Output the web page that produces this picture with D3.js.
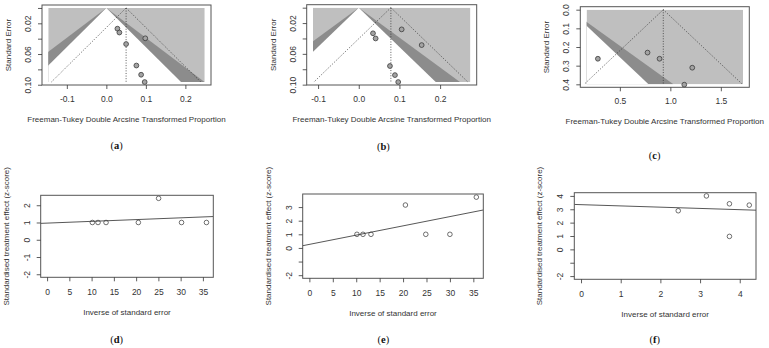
<!DOCTYPE html>
<html>
<head>
<meta charset="utf-8">
<script src="https://cdn.jsdelivr.net/npm/d3@7/dist/d3.min.js"></script>
<style>
  body { margin: 0; background: #fff; }
  svg { display: block; font-family: "Liberation Sans", Arial, sans-serif; }
</style>
</head>
<body>
<svg id="chart" width="769" height="348"></svg>
<script>
// ---- funnel plots (a)-(c): transformed proportion vs standard error ----
const aEffect = [0.028, 0.033, 0.050, 0.0985, 0.076, 0.088, 0.097];
const aSE     = [0.027, 0.032, 0.047, 0.0395, 0.075, 0.087, 0.0965];
const aEstimate = 0.05;
const aXlim = [-0.147, 0.249];
const aSEMax = 0.0965;
const aXTicks = [-0.1, 0.0, 0.1, 0.2];
const aXLabels = ["-0.1", "0.0", "0.1", "0.2"];
const aYTicks = [0, 0.02, 0.04, 0.06, 0.08, 0.10];
const aYLabels = ["", "0.02", "", "0.06", "", "0.10"];

const bEffect = [0.035, 0.0415, 0.1055, 0.1547, 0.0767, 0.089, 0.097];
const bSE     = [0.0333, 0.040, 0.0282, 0.0486, 0.0758, 0.0876, 0.0966];
const bEstimate = 0.079;
const bXlim = [-0.1125, 0.2745];
const bSEMax = 0.0966;
const bXTicks = [-0.1, 0.0, 0.1, 0.2];
const bXLabels = ["-0.1", "0.0", "0.1", "0.2"];
const bYTicks = [0, 0.02, 0.04, 0.06, 0.08, 0.10];
const bYLabels = ["", "0.02", "", "0.06", "", "0.10"];

const cEffect = [0.282, 0.774, 0.893, 1.217, 1.138];
const cSE     = [0.263, 0.230, 0.263, 0.311, 0.402];
const cEstimate = 0.93;
const cXlim = [0.17, 1.72];
const cSEMax = 0.40;
const cXTicks = [0.5, 1.0, 1.5];
const cXLabels = ["0.5", "1.0", "1.5"];
const cYTicks = [0, 0.1, 0.2, 0.3, 0.4];
const cYLabels = ["0.0", "0.1", "0.2", "0.3", "0.4"];

// contour levels (95%, 99%) around zero
const contourZ = [1.96, 2.576];
const ciZ = 1.96;

// ---- Egger plots (d)-(f): precision vs standardised effect ----
const dPrecision = [10.17, 11.44, 13.24, 20.5, 25.05, 30.2, 35.8];
const dZ = [1, 1, 1, 1, 2.4, 1, 1];
const dFit = [0.964, 0.0102]; // intercept, slope
const dXlim = [0, 35.9];
const dYlim = [-2, 2.4];
const dXTicks = [0, 5, 10, 15, 20, 25, 30, 35];
const dYTicks = [-2, -1, 0, 1, 2];
const dYLabels = ["-2", "-1", "0", "1", "2"];

const ePrecision = [10.15, 11.44, 13.15, 20.5, 24.85, 30.0, 35.64];
const eZ = [1, 1, 1, 3.15, 1, 1, 3.73];
const eFit = [0.26, 0.068];
const eXlim = [0, 35.7];
const eYlim = [-2, 3.73];
const eXTicks = [0, 5, 10, 15, 20, 25, 30, 35];
const eYTicks = [-2, -1, 0, 1, 2, 3];
const eYLabels = ["-2", "", "0", "1", "2", "3"];

const fPrecision = [2.45, 3.16, 3.74, 3.74, 4.24];
const fZ = [2.89, 4.0, 3.41, 0.97, 3.31];
const fFit = [3.345, -0.094];
const fXlim = [0, 4.24];
const fYlim = [-2, 4.0];
const fXTicks = [0, 1, 2, 3, 4];
const fYTicks = [-2, -1, 0, 1, 2, 3, 4];
const fYLabels = ["-2", "", "0", "1", "2", "3", "4"];

const funnelTitle = "Freeman-Tukey Double Arcsine Transformed Proportion";
const eggerXTitle = "Inverse of standard error";
const eggerYTitle = "Standardised treatment effect (z-score)";

const svg = d3.select("#chart");
const ink = "#333";

// R style 4% axis expansion
const expand = (lim) => {
    const pad = (lim[1] - lim[0]) * 0.04;
    return [lim[0] - pad, lim[1] + pad];
};

function yLabels(g, labels, offset) {
    g.selectAll(".tick text")
        .text((d, i) => labels[i])
        .attr("x", 0)
        .attr("y", -offset)
        .attr("dy", "0.35em")
        .attr("transform", "rotate(-90)")
        .attr("text-anchor", "middle");
}

function styleAxis(g) {
    g.select(".domain").remove();
    g.selectAll(".tick line").attr("stroke", ink).attr("stroke-width", 0.8);
    g.selectAll(".tick text").attr("fill", ink).attr("font-size", 8.5);
}

function drawFunnel(p) {
    const [x0, x1, y0, y1] = p.box;
    const x = d3.scaleLinear().domain(expand(p.xlim)).range([x0, x1]);
    const y = d3.scaleLinear().domain(expand([0, p.seMax])).range([y0, y1]);
    const g = svg.append("g");

    g.append("clipPath").attr("id", "clip-" + p.key)
        .append("rect")
        .attr("x", x(p.xlim[0])).attr("y", y(0))
        .attr("width", x(p.xlim[1]) - x(p.xlim[0]))
        .attr("height", y(p.seMax) - y(0));

    const shade = g.append("g").attr("clip-path", `url(#clip-${p.key})`);
    shade.append("rect")
        .attr("x", x(p.xlim[0])).attr("y", y(0))
        .attr("width", x(p.xlim[1]) - x(p.xlim[0]))
        .attr("height", y(p.seMax) - y(0))
        .attr("fill", "#bfbfbf");

    const tri = (z) => [[0, 0], [-z * p.seMax, p.seMax], [z * p.seMax, p.seMax]];
    const line = d3.line().x(d => x(d[0])).y(d => y(d[1]));
    shade.append("path").attr("d", line(tri(contourZ[1])) + "Z").attr("fill", "#8c8c8c");
    shade.append("path").attr("d", line(tri(contourZ[0])) + "Z").attr("fill", "#fff");

    // dotted pseudo-CI funnel around the summary estimate
    const ci = [
        [[p.estimate, 0], [p.estimate, p.seMax]],
        [[p.estimate, 0], [p.estimate - ciZ * p.seMax, p.seMax]],
        [[p.estimate, 0], [p.estimate + ciZ * p.seMax, p.seMax]]
    ];
    g.selectAll(".ci").data(ci).enter().append("path")
        .attr("d", line)
        .attr("fill", "none")
        .attr("stroke", "#333")
        .attr("stroke-width", 0.8)
        .attr("stroke-dasharray", "1,1.6");

    g.selectAll(".pt").data(p.effect).enter().append("circle")
        .attr("cx", d => x(d))
        .attr("cy", (d, i) => y(p.se[i]))
        .attr("r", 2.4)
        .attr("fill", "#a3a3a3")
        .attr("stroke", "#3a3a3a")
        .attr("stroke-width", 0.8);

    g.append("rect")
        .attr("x", x0).attr("y", y0).attr("width", x1 - x0).attr("height", y1 - y0)
        .attr("fill", "none").attr("stroke", "#555").attr("stroke-width", 1);

    const xa = g.append("g").attr("transform", `translate(0,${y1})`)
        .call(d3.axisBottom(x).tickValues(p.xTicks).tickSize(4).tickPadding(7)
            .tickFormat((d, i) => p.xLabels[i]));
    styleAxis(xa);

    const ya = g.append("g").attr("transform", `translate(${x0},0)`)
        .call(d3.axisLeft(y).tickValues(p.yTicks).tickSize(4));
    styleAxis(ya);
    yLabels(ya, p.yLabels, 14);

    g.append("text")
        .attr("x", (x0 + x1) / 2).attr("y", y1 + 34)
        .attr("dy", "0.35em").attr("text-anchor", "middle")
        .attr("font-size", 8).attr("fill", ink)
        .text(funnelTitle);
    g.append("text")
        .attr("transform", `translate(${x0 - 34},${(y0 + y1) / 2}) rotate(-90)`)
        .attr("dy", "0.35em").attr("text-anchor", "middle")
        .attr("font-size", 8).attr("fill", ink)
        .text("Standard Error");
}

function drawEgger(p) {
    const [x0, x1, y0, y1] = p.box;
    const x = d3.scaleLinear().domain(expand(p.xlim)).range([x0, x1]);
    const y = d3.scaleLinear().domain(expand(p.ylim)).range([y1, y0]);
    const g = svg.append("g");

    g.append("clipPath").attr("id", "clip-" + p.key)
        .append("rect").attr("x", x0).attr("y", y0).attr("width", x1 - x0).attr("height", y1 - y0);

    const xd = x.domain();
    g.append("path")
        .attr("clip-path", `url(#clip-${p.key})`)
        .attr("d", d3.line().x(d => x(d)).y(d => y(p.fit[0] + p.fit[1] * d))(xd))
        .attr("fill", "none").attr("stroke", "#444").attr("stroke-width", 0.9);

    g.selectAll(".pt").data(p.precision).enter().append("circle")
        .attr("cx", d => x(d))
        .attr("cy", (d, i) => y(p.z[i]))
        .attr("r", 2.3)
        .attr("fill", "none")
        .attr("stroke", "#333")
        .attr("stroke-width", 0.7);

    g.append("rect")
        .attr("x", x0).attr("y", y0).attr("width", x1 - x0).attr("height", y1 - y0)
        .attr("fill", "none").attr("stroke", "#555").attr("stroke-width", 1);

    const xa = g.append("g").attr("transform", `translate(0,${y1})`)
        .call(d3.axisBottom(x).tickValues(p.xTicks).tickSize(4).tickPadding(8)
            .tickFormat(d3.format("d")));
    styleAxis(xa);

    const ya = g.append("g").attr("transform", `translate(${x0},0)`)
        .call(d3.axisLeft(y).tickValues(p.yTicks).tickSize(4));
    styleAxis(ya);
    yLabels(ya, p.yLabels, 14);

    g.append("text")
        .attr("x", (x0 + x1) / 2).attr("y", y1 + 35)
        .attr("dy", "0.35em").attr("text-anchor", "middle")
        .attr("font-size", 8).attr("fill", ink)
        .text(eggerXTitle);
    g.append("text")
        .attr("transform", `translate(${x0 - 35},${(y0 + y1) / 2}) rotate(-90)`)
        .attr("dy", "0.35em").attr("text-anchor", "middle")
        .attr("font-size", 8).attr("fill", ink)
        .text(eggerYTitle);
}

drawFunnel({ key: "a", box: [42, 211, 5, 85], effect: aEffect, se: aSE, estimate: aEstimate,
    xlim: aXlim, seMax: aSEMax, xTicks: aXTicks, xLabels: aXLabels, yTicks: aYTicks, yLabels: aYLabels });
drawFunnel({ key: "b", box: [306.7, 476.7, 4.7, 85], effect: bEffect, se: bSE, estimate: bEstimate,
    xlim: bXlim, seMax: bSEMax, xTicks: bXTicks, xLabels: bXLabels, yTicks: bYTicks, yLabels: bYLabels });
drawFunnel({ key: "c", box: [580.3, 749.3, 6.7, 87.3], effect: cEffect, se: cSE, estimate: cEstimate,
    xlim: cXlim, seMax: cSEMax, xTicks: cXTicks, xLabels: cXLabels, yTicks: cYTicks, yLabels: cYLabels });

drawEgger({ key: "d", box: [40.7, 213.3, 195.3, 277.3], precision: dPrecision, z: dZ, fit: dFit,
    xlim: dXlim, ylim: dYlim, xTicks: dXTicks, yTicks: dYTicks, yLabels: dYLabels });
drawEgger({ key: "e", box: [302.7, 483.3, 194, 278.3], precision: ePrecision, z: eZ, fit: eFit,
    xlim: eXlim, ylim: eYlim, xTicks: eXTicks, yTicks: eYTicks, yLabels: eYLabels });
drawEgger({ key: "f", box: [574.3, 756, 192.7, 279.3], precision: fPrecision, z: fZ, fit: fFit,
    xlim: fXlim, ylim: fYlim, xTicks: fXTicks, yTicks: fYTicks, yLabels: fYLabels });

// sub-figure captions
const captions = [
    ["a", 116.7, 145], ["b", 383.3, 146.7], ["c", 654.7, 155],
    ["d", 116.7, 339.7], ["e", 383.3, 339.7], ["f", 654.7, 339.7]
];
captions.forEach(([k, cx, cy]) => {
    const t = svg.append("text")
        .attr("x", cx).attr("y", cy).attr("dy", "0.35em")
        .attr("text-anchor", "middle")
        .attr("font-family", "'Liberation Serif', 'DejaVu Serif', serif")
        .attr("font-size", 10.5).attr("fill", "#111");
    t.append("tspan").text("(");
    t.append("tspan").attr("font-weight", "bold").text(k);
    t.append("tspan").text(")");
});
</script>
</body>
</html>
